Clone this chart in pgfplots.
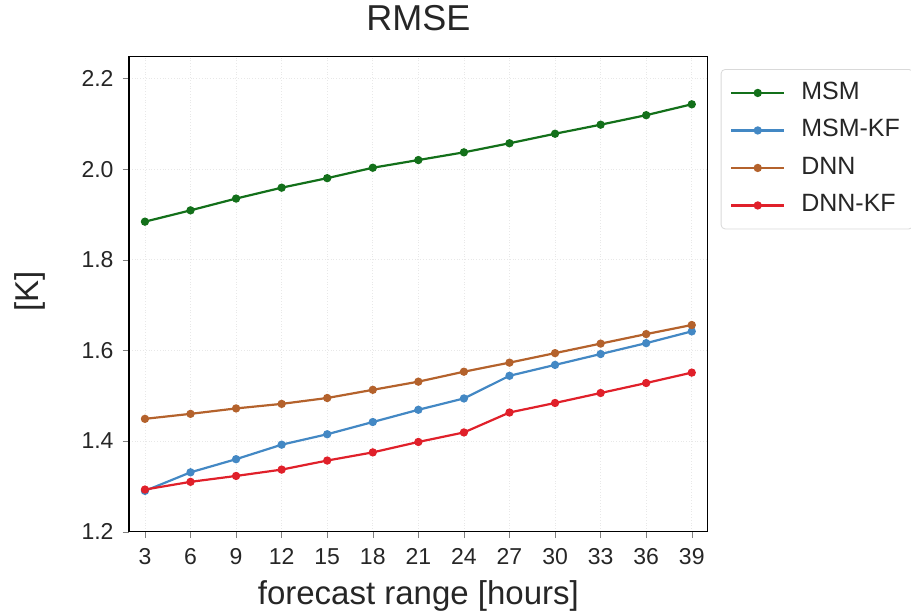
\documentclass[border=0pt]{standalone}
\usepackage{pgfplots}
\pgfplotsset{compat=1.18}
\usepackage{fontspec}
\setmainfont{Liberation Sans}

\definecolor{cmsm}{HTML}{13701A}
\definecolor{cmsmkf}{HTML}{4388C4}
\definecolor{cdnn}{HTML}{B4622C}
\definecolor{cdnnkf}{HTML}{E0202A}

\begin{document}
\begin{tikzpicture}
\useasboundingbox (0,0) rectangle (455.5pt,305.5pt);
\begin{axis}[
    at={(64.5pt,39.65pt)}, anchor=south west,
    scale only axis,
    width=289.35pt, height=237.5pt,
    xmin=1.95, xmax=40.05,
    ymin=1.2, ymax=2.248,
    xtick={3,6,...,39},
    ytick={1.2,1.4,...,2.21},
    yticklabel style={/pgf/number format/fixed, /pgf/number format/precision=1, /pgf/number format/fixed zerofill, xshift=-1pt},
    xticklabel style={yshift=-1.7pt},
    /pgf/number format/assume math mode=true,
    tick label style={font=\fontsize{11.5}{14}\selectfont, color=black!85},
    tick align=outside, tick pos=left,
    major tick length=3.2pt,
    axis line style={line width=0.7pt},
    grid=major,
    major grid style={line width=0.4pt, gray!18, densely dotted},
    title={RMSE},
    title style={font=\fontsize{18}{21}\selectfont, at={(0.5,1)}, anchor=base, yshift=7.3pt, color=black!85},
    xlabel={forecast range [hours]},
    xlabel style={font=\fontsize{16.5}{19}\selectfont, at={(axis description cs:0.5,0)}, anchor=base, yshift=-36.5pt, color=black!85},
    ylabel={[K]},
    ylabel style={font=\fontsize{16.5}{19}\selectfont, at={(axis description cs:-0.171,0.506)}, anchor=center, color=black!85},
    every axis plot/.append style={line width=1.1pt, mark=*, mark size=1.5pt},
    legend image code/.code={
        \draw[mark repeat=2, mark phase=2] plot coordinates {(0pt,0pt) (13.25pt,0pt) (26.5pt,0pt)};
    },
    legend style={at={(1.0225,0.974)}, anchor=north west, draw=gray!30, rounded corners=2pt,
        font=\fontsize{12.5}{15}\selectfont, text=black!85, row sep=6.25pt, inner xsep=4.5pt, inner ysep=5.5pt,
        nodes={text height=9.5pt, text depth=3pt, inner ysep=0pt},
        /tikz/every odd column/.append style={column sep=6pt}},
    legend cell align=left,
]
\addplot[color=cmsm] coordinates {(3,1.884) (6,1.909) (9,1.935) (12,1.959) (15,1.980) (18,2.003) (21,2.020) (24,2.037) (27,2.057) (30,2.078) (33,2.098) (36,2.119) (39,2.143)};
\addlegendentry{MSM}
\addplot[color=cmsmkf] coordinates {(3,1.290) (6,1.331) (9,1.360) (12,1.392) (15,1.415) (18,1.442) (21,1.469) (24,1.494) (27,1.544) (30,1.568) (33,1.592) (36,1.616) (39,1.642)};
\addlegendentry{MSM-KF}
\addplot[color=cdnn] coordinates {(3,1.449) (6,1.460) (9,1.472) (12,1.482) (15,1.495) (18,1.513) (21,1.531) (24,1.553) (27,1.573) (30,1.594) (33,1.615) (36,1.636) (39,1.656)};
\addlegendentry{DNN}
\addplot[color=cdnnkf] coordinates {(3,1.293) (6,1.310) (9,1.323) (12,1.337) (15,1.357) (18,1.375) (21,1.398) (24,1.419) (27,1.463) (30,1.484) (33,1.506) (36,1.528) (39,1.551)};
\addlegendentry{DNN-KF}
\end{axis}
\end{tikzpicture}
\end{document}
